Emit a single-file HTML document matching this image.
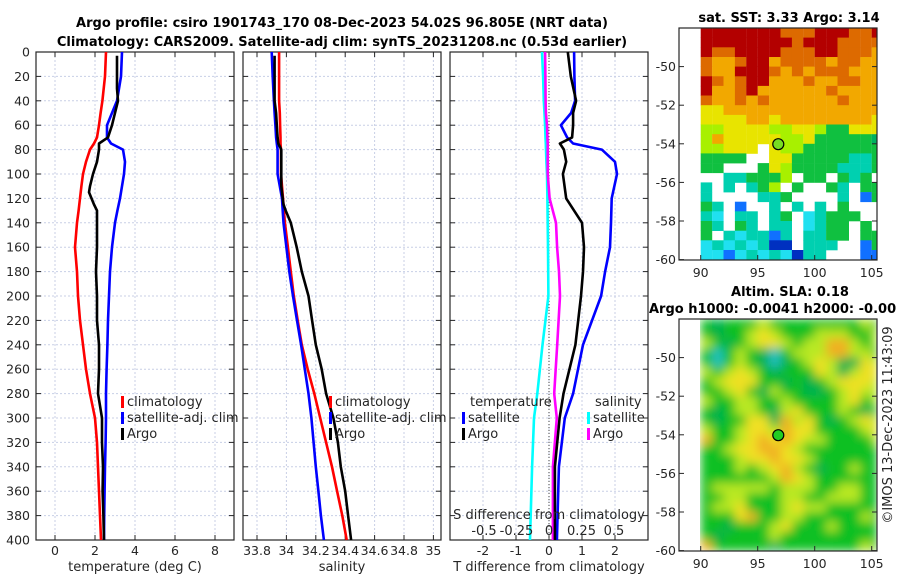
<!DOCTYPE html>
<html><head><meta charset="utf-8">
<style>
html,body{margin:0;padding:0;background:#fff;}
svg{display:block;font-family:"DejaVu Sans","Liberation Sans",sans-serif;}
.tk{font-size:12.5px;fill:#262626;}
.tt{font-size:13px;font-weight:bold;fill:#000;}
.lg{font-size:13px;fill:#262626;}
</style></head>
<body>
<svg id="chart" width="900" height="580" viewBox="0 0 900 580" xmlns="http://www.w3.org/2000/svg">
<defs>
<filter id="blur" x="-0.1" y="-0.1" width="1.2" height="1.2"><feGaussianBlur stdDeviation="5" edgeMode="duplicate"/></filter>
<clipPath id="m2clip"><rect x="700" y="319" width="177" height="232"/></clipPath>
</defs>
<text class="tt" x="342" y="27" text-anchor="middle">Argo profile: csiro 1901743_170 08-Dec-2023 54.02S 96.805E (NRT data)</text>
<text class="tt" x="342" y="46" text-anchor="middle">Climatology: CARS2009. Satellite-adj clim: synTS_20231208.nc (0.53d earlier)</text>
<g id="layer"></g>
</svg>
<script>
const tDepth = [0,20,40,50,60,70,75,80,90,100,110,120,130,140,160,180,200,220,240,260,280,300,320,340,360,380,400];
const tClim  = [2.55,2.5,2.37,2.28,2.2,2.1,1.95,1.75,1.55,1.4,1.32,1.25,1.18,1.1,1.0,1.1,1.15,1.25,1.4,1.55,1.75,2.0,2.1,2.15,2.2,2.25,2.3];
const tSat   = [3.35,3.3,3.1,2.85,2.6,2.6,2.8,3.4,3.5,3.45,3.35,3.25,3.12,3.0,2.85,2.75,2.7,2.65,2.62,2.58,2.55,2.55,2.53,2.5,2.48,2.46,2.45];
const argoDepth = [3,30,40,50,60,70,75,80,90,100,110,115,125,130,140,160,180,200,220,240,260,280,300,320,340,360,380,400];
const tArgo  = [3.1,3.1,3.15,3.0,2.85,2.65,2.2,2.2,2.1,1.9,1.75,1.7,1.95,2.1,2.1,2.1,2.05,2.1,2.1,2.2,2.2,2.15,2.35,2.35,2.4,2.38,2.42,2.45];
const sClim  = [33.95,33.95,33.95,33.955,33.957,33.96,33.96,33.963,33.963,33.963,33.97,33.977,33.983,33.99,34.01,34.03,34.05,34.077,34.105,34.145,34.19,34.23,34.27,34.31,34.345,34.38,34.41];
const sSat   = [33.90,33.907,33.915,33.92,33.925,33.93,33.935,33.94,33.94,33.94,33.955,33.97,33.975,33.98,34.0,34.02,34.045,34.072,34.1,34.125,34.15,34.17,34.185,34.2,34.218,34.235,34.255];
const sArgo  = [33.92,33.92,33.92,33.93,33.935,33.94,33.945,33.965,33.965,33.965,33.965,33.97,33.98,33.995,34.03,34.07,34.105,34.15,34.175,34.2,34.24,34.27,34.32,34.35,34.37,34.4,34.42,34.44];
const dDepth = [0,20,40,50,60,70,75,80,90,100,120,140,160,180,200,240,280,300,340,400];
const dTSat  = [0.76,0.77,0.79,0.67,0.36,0.55,0.73,1.6,2.0,2.06,1.9,1.88,1.85,1.7,1.58,1.03,0.73,0.48,0.3,0.24];
const dTArgo = [0.57,0.66,0.82,0.73,0.73,0.7,0.33,0.45,0.52,0.42,0.52,1.0,1.06,1.03,0.97,0.8,0.44,0.32,0.18,0.18];
const dSSat  = [-0.054,-0.045,-0.04,-0.035,-0.03,-0.027,-0.025,-0.023,-0.02,-0.015,-0.012,-0.01,-0.008,-0.006,-0.005,-0.05,-0.09,-0.115,-0.13,-0.146];
const dSArgo = [-0.03,-0.028,-0.026,-0.024,-0.015,-0.012,-0.01,-0.01,-0.01,-0.01,0.005,0.054,0.062,0.077,0.085,0.063,0.04,0.06,0.03,0.03];
const depthTicks = [0,20,40,60,80,100,120,140,160,180,200,220,240,260,280,300,320,340,360,380,400];
const tTicks = [0,2,4,6,8];
const sTicks = [33.8,34,34.2,34.4,34.6,34.8,35];
const dtTicks = [-2,-1,0,1,2];
const dsTicks = [-0.5,-0.25,0,0.25,0.5];
const latTicks = [-50,-52,-54,-56,-58,-60];
const lonTicks = [90,95,100,105];
const sstRows = ["RRRRRRROOORRROOR","RRRRRRRRORRROOOO","ROORRRROOORROOOo","OooORRoOOOOoOOoo","OooRRROoOoOOOooo","ROoORRoooOooOOoo","RooORooooooOoooo","OooOoOooooooOooo","YYoooooooooooooo","YYYYooYooooooooY","LLYYYYLLYYLGGYYY","LoYYYYYLLYGGGGGg","LLYYY.YLLGGGGGGG","GGGG..YYGGGGGCCG","GG...GYLGGGGCCCG","..CCGGGL.GG.GCG.","C.C.CGL.G..GC.GG","C....CCG....C.BG","GC.B..C.C.C.G...","Cc.CC.CG.cCGGG..","GC.GC.CC.cCGG.G.","G.CcCCBC.CCGG.GG","cCcCcCDD.CCC..BG","ccBcCcCcDCC...BB"];
const slaRows = ["GgGGGyGGGGGGGGyG","GgGGyYyGGGyyyGGy","yGgGyYYyGyyOOyGy","GCGyGgCGyyyOOyyG","GCGyGgCgGyYyggYy","yGyYyGgGGGYygyYY","GyYYYGGgGgGyYYYy","GGyYGgyGGggGyYyy","yGGyyGGyGGGGyYGy","GgGyyGgyYGGGyGgG","GgGGYYgOyYGgGyYy","yGGyYYyOYYGGGGyY","OGGyYOYOYyyGGGGy","GGyYYOOYyGGGGGGG","GGGyYYOYYyGGGGGG","GGGyGyYOyGgGGyGG","GGGGGGyOYyGGGGGG","GyyyyyGyyyGGyyGG","GGyyGGGyyGGyyyGG","GyyYGGGyYyyGGGGG","GGGYOGGyyGGGGGyG","GGgGGGyYGGGyGGGG","GgGGGGyGGGGGGGGG","OGGGGGgGGGGGGGyG"];
const argoLon = 96.805, argoLat = -54.02;

const NS="http://www.w3.org/2000/svg";
const layer=document.getElementById('layer');
function mk(tag,attrs,parent){const e=document.createElementNS(NS,tag);for(const k in attrs)e.setAttribute(k,attrs[k]);(parent||layer).appendChild(e);return e;}
function txt(s,x,y,cls,anchor,parent){const e=mk('text',{x:x,y:y,class:cls,'text-anchor':anchor||'middle'},parent);e.textContent=s;return e;}

const yTop=52, yBot=540;
const yD=d=>yTop+(yBot-yTop)*d/400;
const panels=[
 {x0:36,x1:234,name:'temperature-panel',sc:v=>55+20*v},
 {x0:243,x1:441,name:'salinity-panel',sc:v=>257+147*(v-33.8)},
 {x0:450,x1:648,name:'difference-panel',sc:v=>549+33*v}
];
const scS3=v=>549+130*v;

panels.forEach((p,i)=>{
  const g=mk('g',{});
  
  
  const ticks=i===0?tTicks:i===1?sTicks:dtTicks;
  depthTicks.forEach(d=>{
    const l=mk('line',{x1:p.x0,x2:p.x1,y1:yD(d),y2:yD(d),stroke:'#c8cfe6','stroke-width':1,'stroke-dasharray':'2,2'},g);
    
    
    mk('line',{x1:p.x0,x2:p.x0+5,y1:yD(d),y2:yD(d),stroke:'#262626'},g);
    mk('line',{x1:p.x1-5,x2:p.x1,y1:yD(d),y2:yD(d),stroke:'#262626'},g);
  });
  ticks.forEach(t=>{
    const x=p.sc(t);
    const l=mk('line',{x1:x,x2:x,y1:yTop,y2:yBot,stroke:'#c8cfe6','stroke-dasharray':'2,2'},g);
    
    
    mk('line',{x1:x,x2:x,y1:yBot-5,y2:yBot,stroke:'#262626'},g);
    mk('line',{x1:x,x2:x,y1:yTop,y2:yTop+5,stroke:'#262626'},g);
    const tl=txt(String(t),x,555,'tk','middle',g);
    
    
  });
  const fr=mk('rect',{x:p.x0,y:yTop,width:p.x1-p.x0,height:yBot-yTop,fill:'none',stroke:'#262626','stroke-width':1.2},g);
  
  
});
depthTicks.forEach(d=>{
  const t=txt(String(d),30,yD(d)+4.5,'tk','end');
  
  
});
const zl=mk('line',{x1:549,x2:549,y1:yTop,y2:yBot,stroke:'#444','stroke-width':1,'stroke-dasharray':'1,2'});



function line(xs,ds,sc,color,name){
  const pts=xs.map((v,i)=>sc(v).toFixed(1)+','+yD(ds[i]).toFixed(1)).join(' ');
  const e=mk('polyline',{points:pts,fill:'none',stroke:color,'stroke-width':2.6,'stroke-linejoin':'round'});
  
  
}
line(tClim,tDepth,panels[0].sc,'#ff0000','temp-climatology-line');
line(tSat,tDepth,panels[0].sc,'#0000ff','temp-satellite-line');
line(tArgo,argoDepth,panels[0].sc,'#000000','temp-argo-line');
line(sClim,tDepth,panels[1].sc,'#ff0000','sal-climatology-line');
line(sSat,tDepth,panels[1].sc,'#0000ff','sal-satellite-line');
line(sArgo,argoDepth,panels[1].sc,'#000000','sal-argo-line');
line(dSSat,dDepth,scS3,'#00ffff','sdiff-satellite-line');
line(dSArgo,dDepth,scS3,'#ff00ff','sdiff-argo-line');
line(dTSat,dDepth,panels[2].sc,'#0000ff','tdiff-satellite-line');
line(dTArgo,dDepth,panels[2].sc,'#000000','tdiff-argo-line');

[['temperature (deg C)',135,'temperature-axis-title'],['salinity',342,'salinity-axis-title'],['T difference from climatology',549,'tdiff-axis-title']].forEach(a=>{
  const t=txt(a[0],a[1],571,'lg');
  
  
});
const sdt=txt('S difference from climatology',549,519,'lg');


dsTicks.forEach(t=>{
  const e=txt(String(t),scS3(t),535,'lg');
  
  
});

function legend(x,y,items,name){
  const g=mk('g',{});
  
  
  items.forEach((it,i)=>{
    const yy=y+i*16;
    if(it[1]) mk('rect',{x:x,y:yy-10,width:3,height:12,fill:it[1]},g);
    txt(it[0],x+(it[1]?6:0),yy,'lg','start',g);
  });
}
legend(121,406,[['climatology','#ff0000'],['satellite-adj. clim','#0000ff'],['Argo','#000000']],'temperature-legend');
legend(329,406,[['climatology','#ff0000'],['satellite-adj. clim','#0000ff'],['Argo','#000000']],'salinity-legend');
legend(470,406,[['temperature',null]],'tdiff-legend-title');
legend(462,422,[['satellite','#0000ff'],['Argo','#000000']],'tdiff-legend');
legend(595,406,[['salinity',null]],'sdiff-legend-title');
legend(587,422,[['satellite','#00ffff'],['Argo','#ff00ff']],'sdiff-legend');

const sstCol={R:'#b30000',O:'#dd6a00',o:'#f2a800',Y:'#e8e400',L:'#a8f000',G:'#10c040',g:'#00b060',C:'#00d0b0',c:'#20e0f0',B:'#1070ff',D:'#0030c0'};
const slaCol={G:'#10c020',g:'#00b050',Y:'#f0e020',y:'#b8e820',O:'#f0b020',C:'#20c0c0'};
const lonX=l=>700.7+11.4*(l-90);
function drawMap(top,rows,cols,name,blur){
  const latY=lat=>top+19.3*(-48-lat);
  const g=mk('g',{});
  
  
  const wrap=blur?mk('g',{'clip-path':'url(#m2clip)'},g):g;
  const cells=mk('g',blur?{filter:'url(#blur)'}:{},wrap);
  rows.forEach((r,ri)=>{
    for(let ci=0;ci<r.length;ci++){
      const c=r[ci]; if(c==='.') continue;
      const x=lonX(90+ci), w=ci===15?877-x:11.5;
      const e=mk('rect',{x:x.toFixed(1),y:latY(-48-ri*0.5).toFixed(1),width:w.toFixed(1),height:10,fill:cols[c]},cells);
      
      
    }
  });
  mk('rect',{x:679,y:top,width:198,height:232,fill:'none',stroke:'#262626','stroke-width':1.2},g);
  latTicks.forEach(l=>{
    const y=latY(l);
    mk('line',{x1:679,x2:684,y1:y,y2:y,stroke:'#262626'},g);
    mk('line',{x1:872,x2:877,y1:y,y2:y,stroke:'#262626'},g);
    const t=txt(String(l),676,y+4.5,'tk','end',g);
    
    
  });
  lonTicks.forEach(l=>{
    const x=lonX(l);
    mk('line',{x1:x,x2:x,y1:top+227,y2:top+232,stroke:'#262626'},g);
    const t=txt(String(l),x,top+249,'tk','middle',g);
    
    
  });
  const m=mk('circle',{cx:lonX(argoLon),cy:latY(argoLat),r:5.5,fill:blur?'#22cc22':'#77dd22',stroke:'#000','stroke-width':1.2},g);
  
  
}
drawMap(28,sstRows,sstCol,'sst-map',false);
drawMap(319,slaRows,slaCol,'sla-map',true);
const t1=txt('sat. SST: 3.33 Argo: 3.14',789,22,'tt');  
const t2=txt('Altim. SLA: 0.18',790,296,'tt');  
const t3=txt('Argo h1000: -0.0041 h2000: -0.00',649,313,'tt','start');  
const cr=txt('©IMOS 13-Dec-2023 11:43:09',0,0,'lg','middle');
cr.setAttribute('transform','translate(892,425) rotate(-90)');


</script>
</body></html>
